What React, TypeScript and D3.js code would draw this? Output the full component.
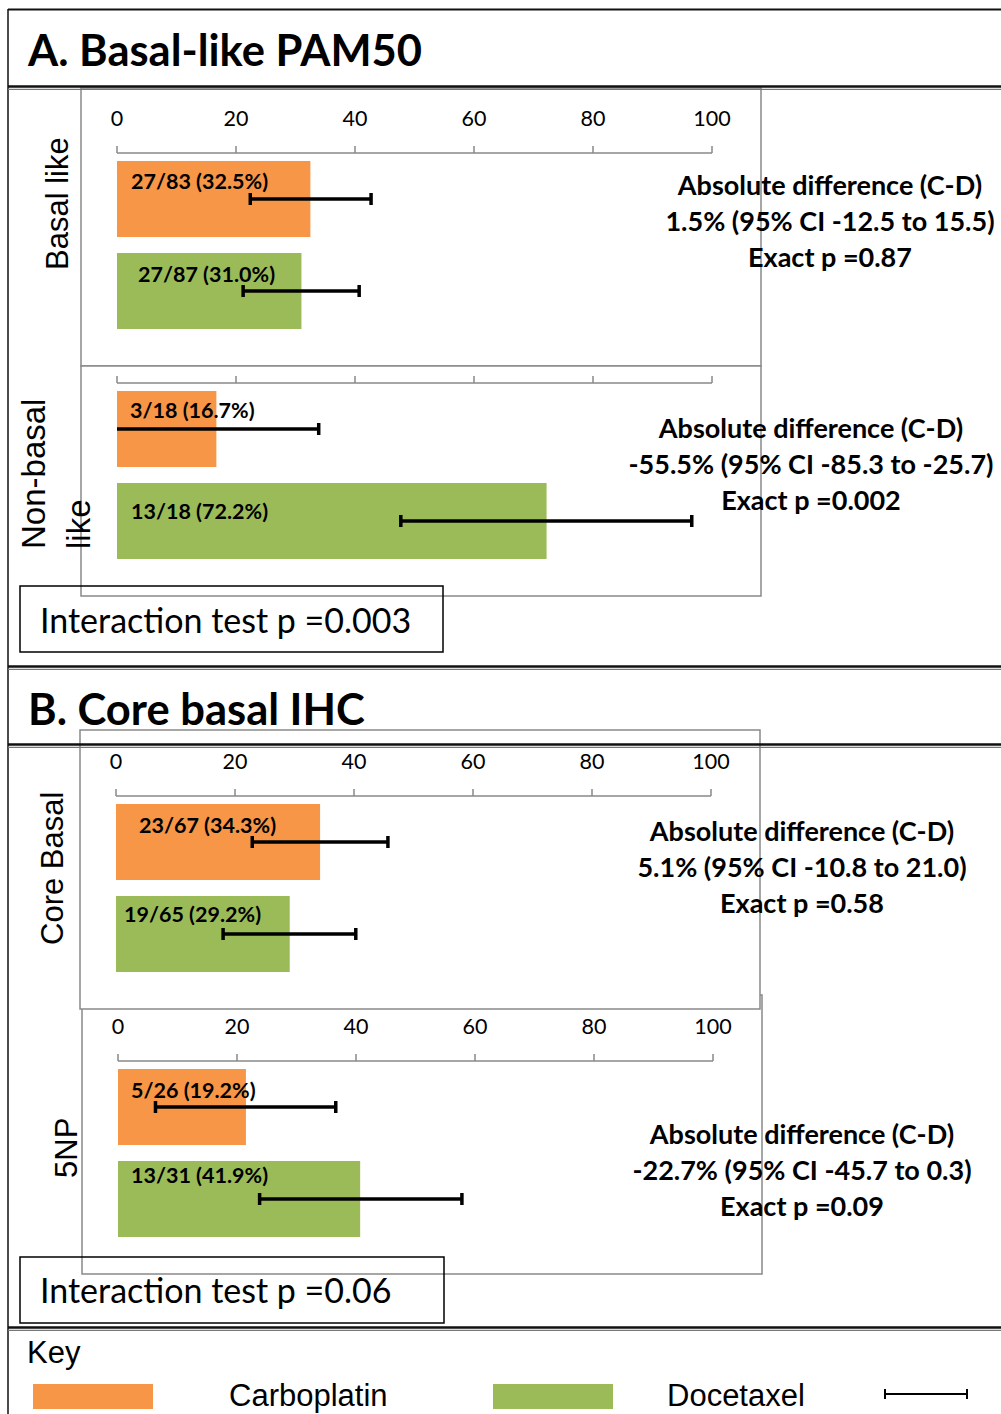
import React from "react";
import * as d3 from "d3";

// ---------- data ----------
const seriesNames = ["Carboplatin", "Docetaxel"];
const subgroupNames = [["Basal like"], ["Non-basal", "like"], ["Core Basal"], ["5NP"]];
const carboLabels = ["27/83 (32.5%)", "3/18 (16.7%)", "23/67 (34.3%)", "5/26 (19.2%)"];
const carboValues = [32.5, 16.7, 34.3, 21.5];
const carboLow = [22.4, 0, 22.9, 6.3];
const carboHigh = [42.7, 33.9, 45.7, 36.6];
const doceLabels = ["27/87 (31.0%)", "13/18 (72.2%)", "19/65 (29.2%)", "13/31 (41.9%)"];
const doceValues = [31.0, 72.2, 29.2, 40.7];
const doceLow = [21.2, 47.7, 18.0, 23.8];
const doceHigh = [40.7, 96.6, 40.3, 57.8];
const diffTexts = [
  ["Absolute difference (C-D)", "1.5% (95% CI -12.5 to 15.5)", "Exact p =0.87"],
  ["Absolute difference (C-D)", "-55.5% (95% CI -85.3 to -25.7)", "Exact p =0.002"],
  ["Absolute difference (C-D)", "5.1% (95% CI -10.8 to 21.0)", "Exact p =0.58"],
  ["Absolute difference (C-D)", "-22.7% (95% CI -45.7 to 0.3)", "Exact p =0.09"],
];
const tickValues = [0, 20, 40, 60, 80, 100];
const panelTitles = ["A. Basal-like PAM50", "B. Core basal IHC"];
const interactionTexts = ["Interaction test p =0.003", "Interaction test p =0.06"];
const keyTitle = "Key";

// ---------- styling / layout ----------
const COLORS = ["#F79646", "#9BBB59"];
const GRID = "#898989";
const CAL = "Lato, 'Open Sans', sans-serif";
const ARIAL = "'Liberation Sans', Arial, sans-serif";

const layouts = [
  { frame: [81, 88, 680, 278], x0: 117, axisY: 153, tickLabelY: 126, labelX: [131, 138], labelY: [181, 274], diff: [830, 185], ylab: { x: [68], y: 270, fs: 31 } },
  { frame: [81, 366, 680, 230], x0: 117, axisY: 383, tickLabelY: null, labelX: [130, 131], labelY: [410, 511], diff: [811, 428], ylab: { x: [45, 90], y: 549, fs: 33 } },
  { frame: [80, 730, 680, 279], x0: 116, axisY: 796, tickLabelY: 769, labelX: [139, 124], labelY: [825, 914], diff: [802, 831], ylab: { x: [63], y: 945, fs: 31 } },
  { frame: [82, 995, 680, 279], x0: 118, axisY: 1061, tickLabelY: 1034, labelX: [131, 131], labelY: [1090, 1175], diff: [802, 1134], ylab: { x: [77], y: 1178, fs: 31 } },
];
const drawOrder = [0, 1, 3, 2];

function Chart({ i }: { i: number }) {
  const L = layouts[i];
  const x = d3.scaleLinear().domain([0, 100]).range([L.x0, L.x0 + 595]);
  const y = d3
    .scaleBand<string>()
    .domain(seriesNames)
    .range([L.axisY + 8, L.axisY + 8 + 168])
    .paddingInner(16 / 92);
  const vals = [carboValues[i], doceValues[i]];
  const lows = [carboLow[i], doceLow[i]];
  const highs = [carboHigh[i], doceHigh[i]];
  const labels = [carboLabels[i], doceLabels[i]];
  const [fx, fy, fw, fh] = L.frame;
  return (
    <g>
      <rect x={fx} y={fy} width={fw} height={fh} fill="#fff" stroke={GRID} strokeWidth={1.5} />
      <line x1={x(0)} x2={x(100)} y1={L.axisY} y2={L.axisY} stroke={GRID} strokeWidth={1.5} />
      {tickValues.map((t) => (
        <line key={t} x1={x(t)} x2={x(t)} y1={L.axisY - 7} y2={L.axisY} stroke={GRID} strokeWidth={1.5} />
      ))}
      {L.tickLabelY != null &&
        tickValues.map((t) => (
          <text key={"l" + t} x={x(t)} y={L.tickLabelY} textAnchor="middle" fontFamily={CAL} fontSize={21.5} fill="#000">
            {t}
          </text>
        ))}
      {seriesNames.map((s, k) => (
        <rect key={s} x={x(0)} y={y(s)} width={x(vals[k]) - x(0)} height={y.bandwidth()} fill={COLORS[k]} />
      ))}
      {seriesNames.map((s, k) => (
        <text key={"t" + s} x={L.labelX[k]} y={L.labelY[k]} dy="0.36em" fontFamily={CAL} fontWeight={700} fontSize={21.5} fill="#000">
          {labels[k]}
        </text>
      ))}
      {seriesNames.map((s, k) => {
        const cy = (y(s) as number) + y.bandwidth() / 2;
        return (
          <g key={"e" + s} stroke="#000" strokeWidth={3.5}>
            <line x1={x(lows[k])} x2={x(highs[k])} y1={cy} y2={cy} />
            {lows[k] > 0 && <line x1={x(lows[k])} x2={x(lows[k])} y1={cy - 6} y2={cy + 6} />}
            <line x1={x(highs[k])} x2={x(highs[k])} y1={cy - 6} y2={cy + 6} />
          </g>
        );
      })}
    </g>
  );
}

function Annot({ i }: { i: number }) {
  const L = layouts[i];
  return (
    <g>
      {diffTexts[i].map((t, j) => (
        <text key={j} x={L.diff[0]} y={L.diff[1] + j * 36} dy="0.36em" textAnchor="middle" fontFamily={CAL} fontWeight={700} fontSize={27} fill="#000">
          {t}
        </text>
      ))}
      {subgroupNames[i].map((t, j) => (
        <text key={"y" + j} transform={`translate(${L.ylab.x[j]},${L.ylab.y}) rotate(-90)`} fontFamily={ARIAL} fontSize={L.ylab.fs} fill="#000">
          {t}
        </text>
      ))}
    </g>
  );
}

function DoubleLine({ y }: { y: number }) {
  return (
    <g>
      <line x1={8} x2={1001} y1={y} y2={y} stroke="#111" strokeWidth={2.5} />
      <line x1={8} x2={1001} y1={y + 2.8} y2={y + 2.8} stroke="#777" strokeWidth={1.2} />
    </g>
  );
}

export default function App() {
  return (
    <svg width={1001} height={1414} style={{ position: "absolute", left: 0, top: 0, background: "#fff" }}>
      <rect x={0} y={0} width={1001} height={1414} fill="#fff" />
      {drawOrder.map((i) => (
        <Chart key={i} i={i} />
      ))}
      {[0, 1, 2, 3].map((i) => (
        <Annot key={"a" + i} i={i} />
      ))}
      <line x1={8} x2={1001} y1={9.5} y2={9.5} stroke="#111" strokeWidth={2} />
      <line x1={8} x2={8} y1={9} y2={1414} stroke="#111" strokeWidth={1.5} />
      <DoubleLine y={86.5} />
      <DoubleLine y={666.5} />
      <DoubleLine y={744.5} />
      <DoubleLine y={1327.5} />
      <text x={28} y={66} fontFamily={CAL} fontWeight={700} fontSize={43.5} fill="#000">{panelTitles[0]}</text>
      <text x={28} y={725} fontFamily={CAL} fontWeight={700} fontSize={43.5} fill="#000">{panelTitles[1]}</text>
      <rect x={20} y={586} width={423} height={66} fill="none" stroke="#000" strokeWidth={1.5} />
      <text x={40} y={621} dy="0.36em" fontFamily={CAL} fontSize={34} fill="#000">{interactionTexts[0]}</text>
      <rect x={20} y={1257} width={424} height={66} fill="none" stroke="#000" strokeWidth={1.5} />
      <text x={40} y={1291} dy="0.36em" fontFamily={CAL} fontSize={34} fill="#000">{interactionTexts[1]}</text>
      <text x={27} y={1363} fontFamily={ARIAL} fontSize={31} fill="#000">{keyTitle}</text>
      <rect x={33} y={1384} width={120} height={25} fill={COLORS[0]} />
      <text x={229} y={1406} fontFamily={ARIAL} fontSize={31} fill="#000">{seriesNames[0]}</text>
      <rect x={493} y={1384} width={120} height={25} fill={COLORS[1]} />
      <text x={667} y={1406} fontFamily={ARIAL} fontSize={31} fill="#000">{seriesNames[1]}</text>
      <g stroke="#000" strokeWidth={2}>
        <line x1={885} x2={967} y1={1394} y2={1394} />
        <line x1={885} x2={885} y1={1389} y2={1399} />
        <line x1={967} x2={967} y1={1389} y2={1399} />
      </g>
    </svg>
  );
}
